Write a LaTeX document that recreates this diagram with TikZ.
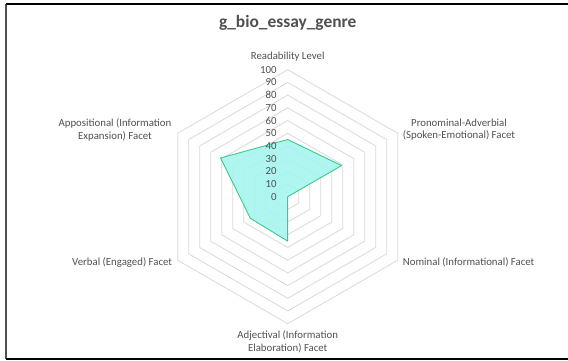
\documentclass[tikz,border=0pt]{standalone}
\usepackage{fontspec}
\setmainfont{Carlito}
\usepackage{tikz}
\usetikzlibrary{positioning}
\definecolor{ringgray}{HTML}{D9D9D9}
\definecolor{labgray}{HTML}{505050}
\definecolor{areafill}{HTML}{A6F5EE}
\definecolor{arealine}{HTML}{3CC98A}

\begin{document}
\begin{tikzpicture}[x=1pt, y=1pt,
		axislab/.style={text=labgray, font=\fontsize{10.8}{12.7}\selectfont, align=center, inner sep=0pt},
		ticklab/.style={text=labgray, font=\fontsize{10.8}{12}\selectfont, anchor=east, inner sep=0pt},
		ring/.style={draw=ringgray, line width=0.8pt}]
		\useasboundingbox (-287.7,-163.3) rectangle (280.3,196.7);
		
		% frame
		\draw[labgray, line width=1.2pt] (-281.7,192.7) -- (-281.7,-162.3);
		\draw[black, line width=1.2pt] (-281.7,192.7) -- (280.3,192.7);
		\draw[black, line width=1.2pt] (-281.7,-162.3) -- (280.3,-162.3);
		
		\node[font=\fontsize{17.4}{20}\selectfont\bfseries, text=labgray] (title) at (0,174) {g\_bio\_essay\_genre};
		
		% rings
		\foreach \v in {10,20,...,100}
		\draw[ring] (90:1.27*\v) -- (30:1.27*\v) -- (-30:1.27*\v) -- (-90:1.27*\v) -- (-150:1.27*\v) -- (150:1.27*\v) -- cycle;
		
		% data
		\coordinate (p0) at (90:1.27*45);
		\coordinate (p1) at (30:1.27*49);
		\coordinate (p2) at (-30:0);
		\coordinate (p3) at (-90:1.27*35);
		\coordinate (p4) at (-150:1.27*34);
		\coordinate (p5) at (150:1.27*61);
		\draw[arealine, fill=areafill, fill opacity=0.9, line width=0.9pt, line join=round]
		(p0) -- (p1) -- (p2) -- (p3) -- (p4) -- (p5) -- cycle;
		
		\foreach \v in {0,10,...,100}
		\node[ticklab] (t\v) at (-11,1.27*\v) {\v};
		
		\node[axislab] (read) at (0,139.7) {Readability Level};
		\node[axislab] (pron) at (171.3,67) {Pronominal-Adverbial\\(Spoken-Emotional) Facet};
		\node[axislab, anchor=west] (nomi) at (115,-66) {Nominal (Informational) Facet};
		\node[axislab] (adje) at (0,-144.8) {Adjectival (Information\\Elaboration) Facet};
		\node[axislab, anchor=east] (verb) at (-115.4,-66) {Verbal (Engaged) Facet};
		\node[axislab] (appo) at (-172.7,67) {Appositional (Information\\Expansion) Facet};
		
	\end{tikzpicture}
\end{document}
